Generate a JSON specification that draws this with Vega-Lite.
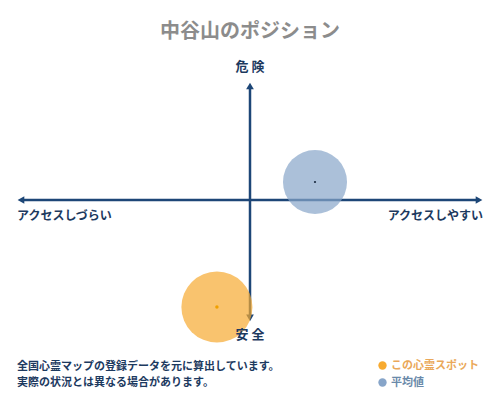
{
  "$schema": "https://vega.github.io/schema/vega-lite/v6.json",
  "width": 500,
  "height": 400,
  "padding": 0,
  "autosize": "none",
  "background": "white",
  "title": {
    "text": "中谷山のポジション",
    "font": "Noto Sans CJK JP",
    "fontSize": 20,
    "fontWeight": "bold",
    "color": "#8c8c8c",
    "anchor": "middle",
    "frame": "group",
    "offset": 0,
    "baseline": "middle",
    "dy": 52
  },
  "datasets": {
    "positions": [
      {"series": "この心霊スポット", "x": -0.142, "y": -0.892},
      {"series": "平均値", "x": 0.279, "y": 0.15}
    ],
    "axes": [
      {"x": -0.98, "x2": 0.98, "y": 0, "y2": 0},
      {"x": 0, "x2": 0, "y": 0.95, "y2": -0.983}
    ],
    "arrows": [
      {"x": -0.983, "y": 0, "dir": "left"},
      {"x": 0.983, "y": 0, "dir": "right"},
      {"x": 0, "y": 0.95, "dir": "up"},
      {"x": 0, "y": -0.983, "dir": "down"}
    ],
    "labels": [
      {"text": "危 険", "x": 0, "y": 1.108, "side": "top"},
      {"text": "安 全", "x": 0, "y": -1.125, "side": "bottom"},
      {"text": "アクセスしづらい", "x": -1, "y": -0.133, "side": "left"},
      {"text": "アクセスしやすい", "x": 1, "y": -0.133, "side": "right"}
    ],
    "notes": [
      {"text": "全国心霊マップの登録データを元に算出しています。", "x": -1, "y": -1.392},
      {"text": "実際の状況とは異なる場合があります。", "x": -1, "y": -1.525}
    ]
  },
  "encoding": {
    "x": {"field": "x", "type": "quantitative", "scale": {"domain": [-1.073, 1.073]}, "axis": null},
    "y": {"field": "y", "type": "quantitative", "scale": {"domain": [-1.6667, 1.6667]}, "axis": null}
  },
  "layer": [
    {
      "data": {"name": "axes"},
      "mark": {"type": "rule", "color": "#1d4677", "strokeWidth": 2.5},
      "encoding": {
        "x2": {"field": "x2"},
        "y2": {"field": "y2"}
      }
    },
    {
      "data": {"name": "arrows"},
      "mark": {"type": "point", "filled": true, "color": "#1d4677", "opacity": 1, "size": 60},
      "encoding": {
        "shape": {
          "field": "dir",
          "type": "nominal",
          "scale": {
            "domain": ["left", "right", "up", "down"],
            "range": ["triangle-left", "triangle-right", "triangle-up", "triangle-down"]
          },
          "legend": null
        }
      }
    },
    {
      "data": {"name": "positions"},
      "mark": {"type": "point", "filled": true, "opacity": 0.7, "stroke": null},
      "encoding": {
        "color": {
          "field": "series",
          "type": "nominal",
          "scale": {"domain": ["この心霊スポット", "平均値"], "range": ["#f7aa30", "#87a5c9"]},
          "legend": {
            "title": null,
            "orient": "none",
            "legendX": 377,
            "legendY": 360,
            "symbolType": "circle",
            "symbolSize": 70,
            "symbolOpacity": 1,
            "rowPadding": 5,
            "labelFont": "Noto Sans CJK JP",
            "labelFontSize": 11,
            "labelFontWeight": "bold",
            "labelOffset": 3,
            "labelColor": {"expr": "datum.label == '平均値' ? '#6a8aaa' : '#eaa85a'"}
          }
        },
        "size": {
          "condition": {"test": "datum.series == '平均値'", "value": 4100},
          "value": 5050
        }
      }
    },
    {
      "data": {"name": "positions"},
      "mark": {"type": "point", "filled": true, "opacity": 1},
      "encoding": {
        "color": {
          "condition": {"test": "datum.series == '平均値'", "value": "#1a2a40"},
          "value": "#f0a000"
        },
        "size": {
          "condition": {"test": "datum.series == '平均値'", "value": 5},
          "value": 12
        }
      }
    },
    {
      "data": {"name": "labels"},
      "transform": [{"filter": "datum.side == 'top' || datum.side == 'bottom'"}],
      "mark": {"type": "text", "align": "center", "baseline": "middle", "font": "Noto Sans CJK JP", "fontSize": 13, "fontWeight": "bold", "color": "#1d3a5f"},
      "encoding": {"text": {"field": "text"}}
    },
    {
      "data": {"name": "labels"},
      "transform": [{"filter": "datum.side == 'left'"}],
      "mark": {"type": "text", "align": "left", "baseline": "middle", "font": "Noto Sans CJK JP", "fontSize": 12, "fontWeight": "bold", "color": "#1d3a5f"},
      "encoding": {"text": {"field": "text"}}
    },
    {
      "data": {"name": "labels"},
      "transform": [{"filter": "datum.side == 'right'"}],
      "mark": {"type": "text", "align": "right", "baseline": "middle", "font": "Noto Sans CJK JP", "fontSize": 12, "fontWeight": "bold", "color": "#1d3a5f"},
      "encoding": {"text": {"field": "text"}}
    },
    {
      "data": {"name": "notes"},
      "mark": {"type": "text", "align": "left", "baseline": "middle", "font": "Noto Sans CJK JP", "fontSize": 11, "fontWeight": "bold", "color": "#1d3a5f"},
      "encoding": {"text": {"field": "text"}}
    }
  ],
  "config": {
    "view": {"stroke": null}
  }
}
